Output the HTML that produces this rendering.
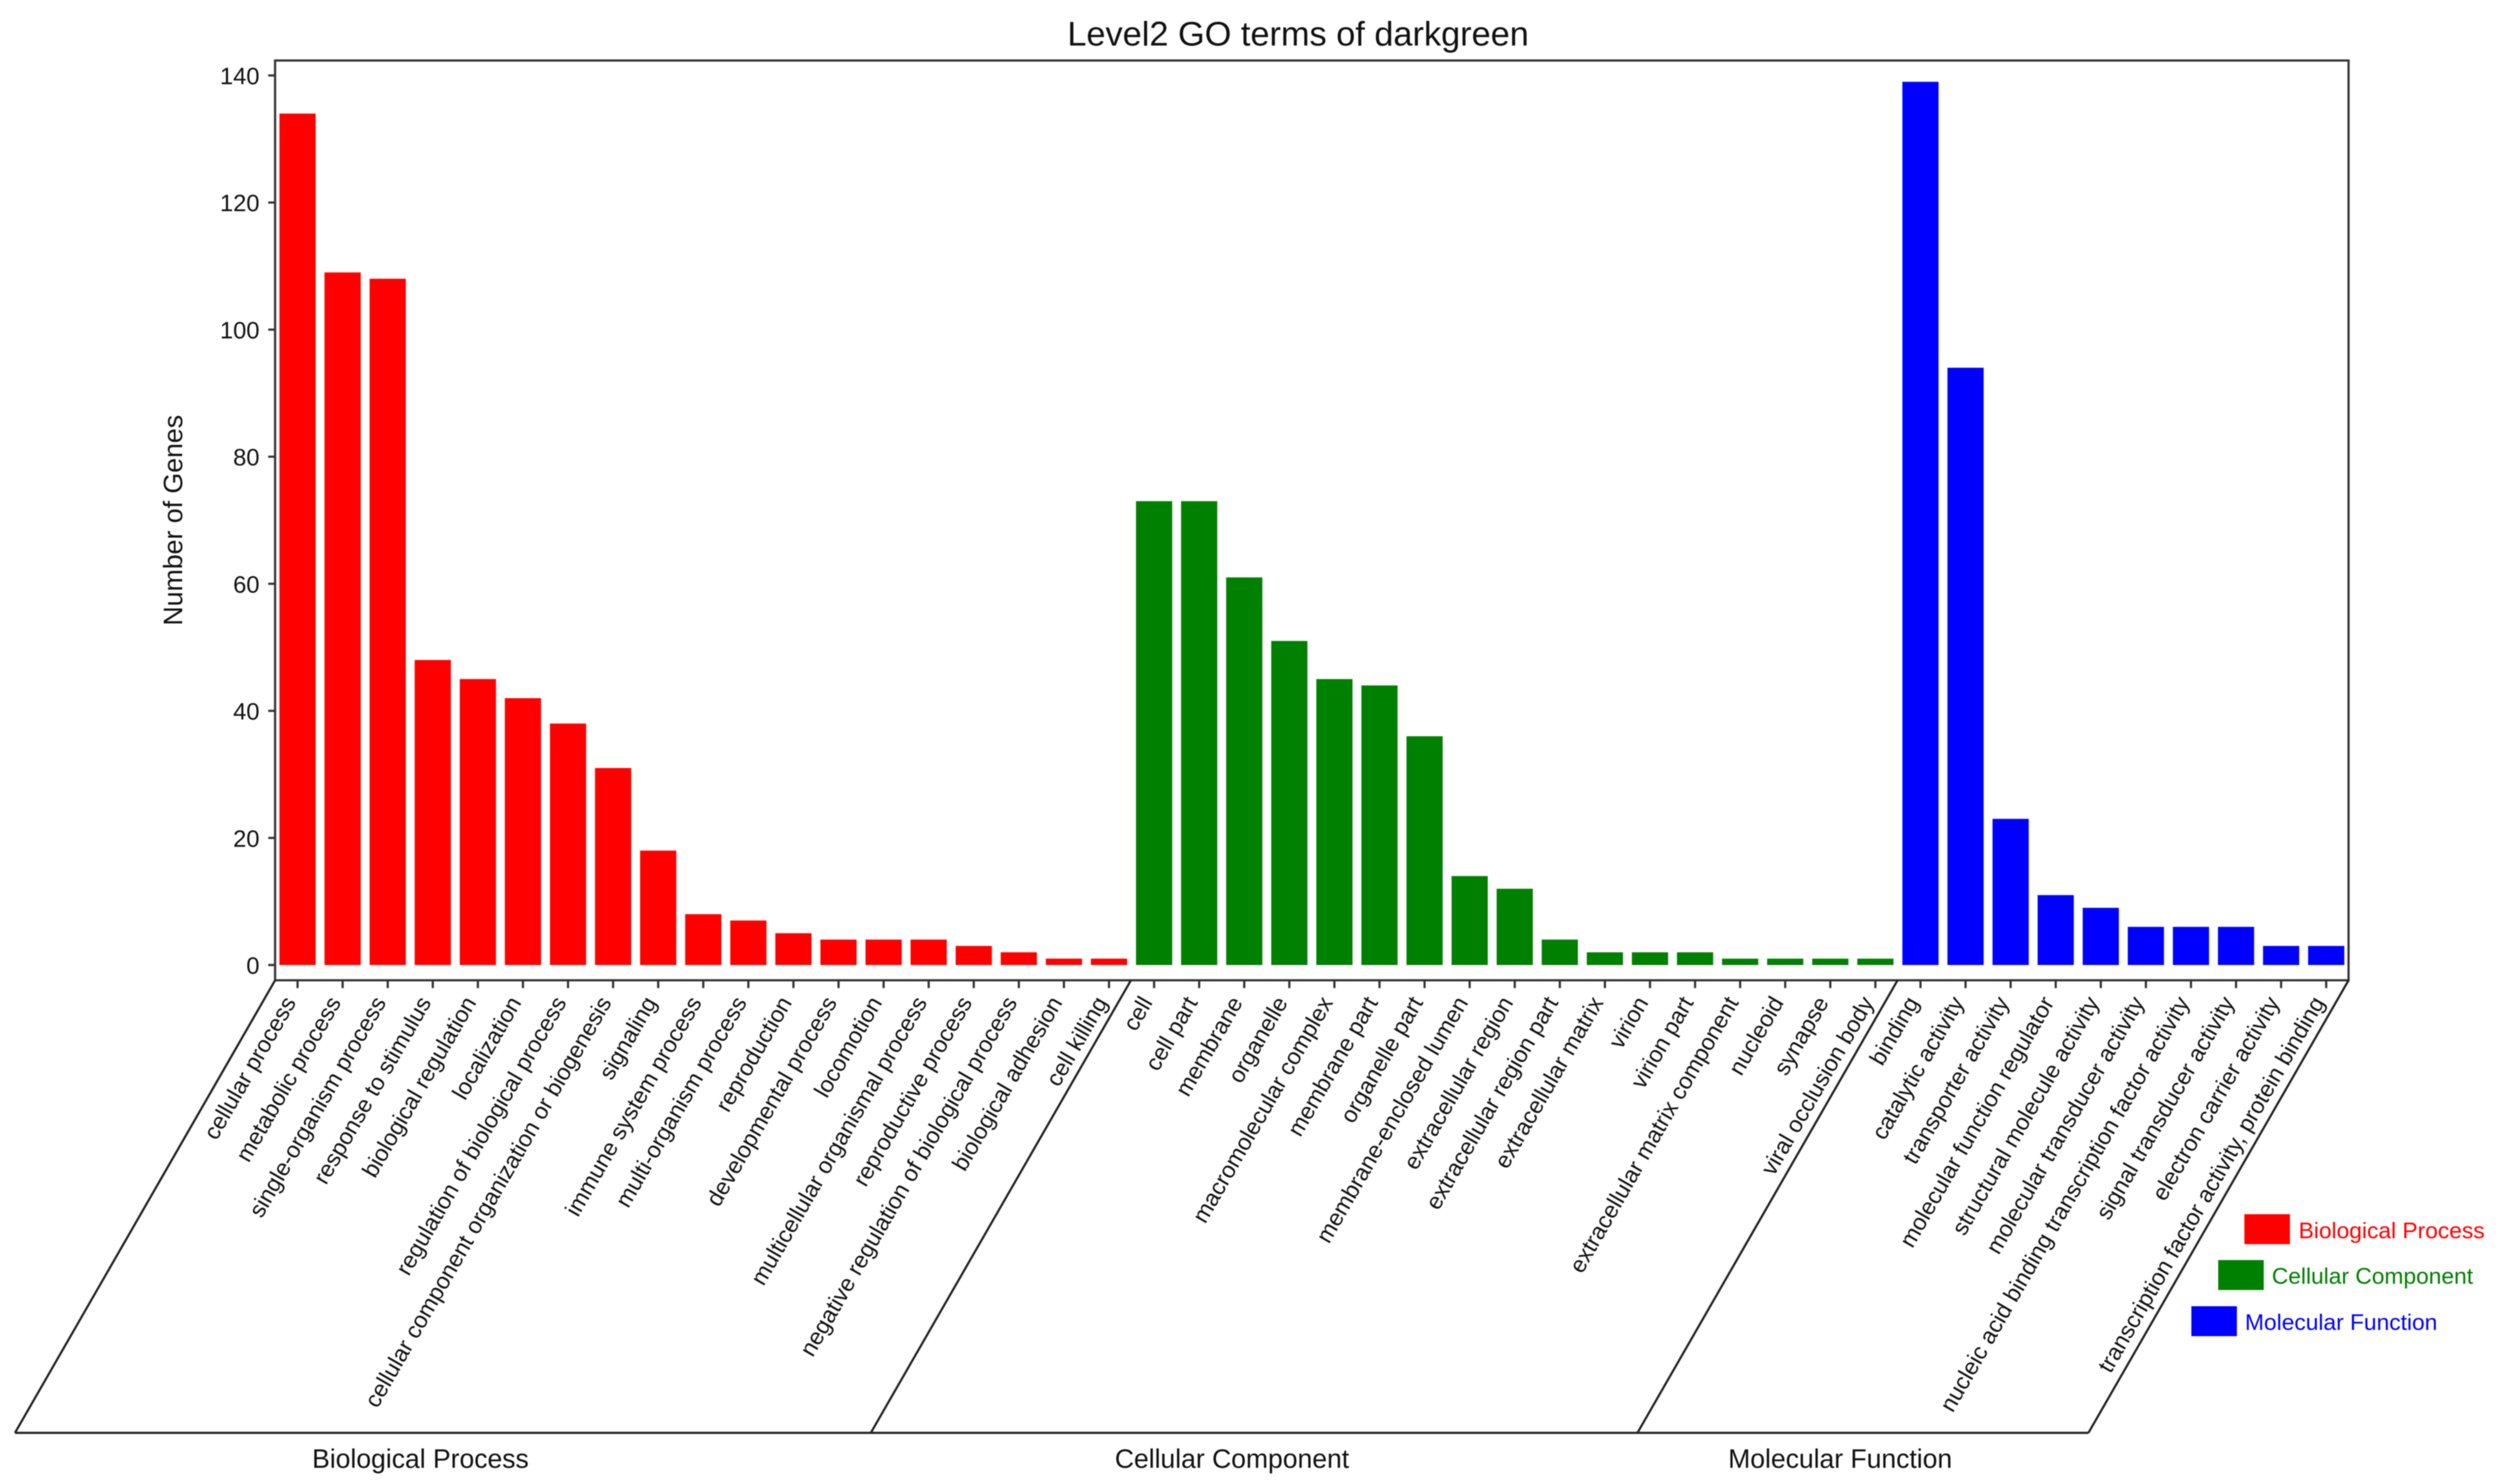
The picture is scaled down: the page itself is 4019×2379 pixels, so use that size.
<!DOCTYPE html>
<html lang="en">
<head>
<meta charset="utf-8">
<title>Level2 GO terms of darkgreen</title>
<style>
html,body{margin:0;padding:0;background:#fff;width:4019px;height:2379px;overflow:hidden}
svg{display:block;font-family:"Liberation Sans",Arial,sans-serif;filter:blur(0.9px)}
</style>
</head>
<body>
<svg id="chart" xmlns="http://www.w3.org/2000/svg" width="4019" height="2379" viewBox="0 0 4019 2379">
  <rect width="4019" height="2379" fill="#fff"/>
  <text x="2081" y="73" font-size="55" text-anchor="middle" fill="#111">Level2 GO terms of darkgreen</text>
  <text transform="translate(292,834) rotate(-90)" font-size="42.8" text-anchor="middle" fill="#111">Number of Genes</text>
  <g id="bars"></g>
  <rect x="441" y="97" width="3324" height="1474.5" fill="none" stroke="#333" stroke-width="3.5"/>
  <g id="yticks"></g>
  <g id="xticks"></g>
  <g stroke="#222" stroke-width="3.5" fill="none">
    <line x1="441" y1="1571.5" x2="24" y2="2297"/>
    <line x1="1813" y1="1571.5" x2="1396" y2="2297"/>
    <line x1="3042" y1="1571.5" x2="2625" y2="2297"/>
    <line x1="3765" y1="1571.5" x2="3348" y2="2297"/>
    <line x1="24" y1="2297" x2="3348" y2="2297"/>
  </g>
  <text x="674" y="2353" font-size="42.5" text-anchor="middle" fill="#111">Biological Process</text>
  <text x="1975" y="2353" font-size="42.5" text-anchor="middle" fill="#111">Cellular Component</text>
  <text x="2950" y="2353" font-size="42.5" text-anchor="middle" fill="#111">Molecular Function</text>
  <g font-size="36.5">
    <g>
      <rect x="3598" y="1946.5" width="73" height="48" fill="#f00"/>
      <text x="3685" y="1985" fill="#f00">Biological Process</text>
    </g>
    <g>
      <rect x="3556" y="2020" width="73" height="48" fill="#008000"/>
      <text x="3642" y="2058" fill="#008000">Cellular Component</text>
    </g>
    <g>
      <rect x="3513" y="2094" width="73" height="48" fill="#00f"/>
      <text x="3599" y="2132" fill="#00f">Molecular Function</text>
    </g>
  </g>
</svg>
<script>
const bpTerms = ["cellular process","metabolic process","single-organism process","response to stimulus","biological regulation","localization","regulation of biological process","cellular component organization or biogenesis","signaling","immune system process","multi-organism process","reproduction","developmental process","locomotion","multicellular organismal process","reproductive process","negative regulation of biological process","biological adhesion","cell killing"];
const bpValues = [134,109,108,48,45,42,38,31,18,8,7,5,4,4,4,3,2,1,1];
const ccTerms = ["cell","cell part","membrane","organelle","macromolecular complex","membrane part","organelle part","membrane-enclosed lumen","extracellular region","extracellular region part","extracellular matrix","virion","virion part","extracellular matrix component","nucleoid","synapse","viral occlusion body"];
const ccValues = [73,73,61,51,45,44,36,14,12,4,2,2,2,1,1,1,1];
const mfTerms = ["binding","catalytic activity","transporter activity","molecular function regulator","structural molecule activity","molecular transducer activity","nucleic acid binding transcription factor activity","signal transducer activity","electron carrier activity","transcription factor activity, protein binding"];
const mfValues = [139,94,23,11,9,6,6,6,3,3];
const yTickValues = [0,20,40,60,80,100,120,140];

const NS = "http://www.w3.org/2000/svg";
const Y0 = 1547, UNIT = 10.186;
const X0 = 477, STEP = 72.27, BAR_W = 58;
const yScale = v => Y0 - v * UNIT;
const xScale = i => X0 + i * STEP;

function make(tag, parent, attrs) {
  const el = document.createElementNS(NS, tag);
  for (const k in attrs) el.setAttribute(k, attrs[k]);
  parent.appendChild(el);
  return el;
}
function slug(s) { return s.toLowerCase().replace(/[^a-z0-9]+/g, "-"); }

const barsG = document.getElementById("bars");
const yG = document.getElementById("yticks");
const xG = document.getElementById("xticks");

yTickValues.forEach(v => {
  const y = yScale(v);
  const tick = make("line", yG, {x1: 430, x2: 441, y1: y, y2: y, stroke: "#333", "stroke-width": 3.5});
  
  
  const lab = make("text", yG, {x: 416, y: y + 14, "font-size": 38, "text-anchor": "end", fill: "#111"});
  lab.textContent = v;
  
  
});

let index = 0;
function drawGroup(terms, values, color) {
  terms.forEach((term, i) => {
    const cx = xScale(index);
    const top = yScale(values[i]);
    const bar = make("rect", barsG, {x: cx - BAR_W / 2, y: top, width: BAR_W, height: Y0 - top, fill: color});
    
    
    const tick = make("line", xG, {x1: cx, x2: cx, y1: 1571.5, y2: 1584, stroke: "#333", "stroke-width": 3.5});
    
    
    const ax = cx - 1.5, ay = 1607;
    const lab = make("text", xG, {x: ax, y: ay, "font-size": 37, "text-anchor": "end", fill: "#111", transform: "rotate(-60 " + ax + " " + ay + ")"});
    lab.textContent = term;
    
    
    index++;
  });
}
drawGroup(bpTerms, bpValues, "#f00");
drawGroup(ccTerms, ccValues, "#008000");
drawGroup(mfTerms, mfValues, "#00f");
</script>
</body>
</html>
